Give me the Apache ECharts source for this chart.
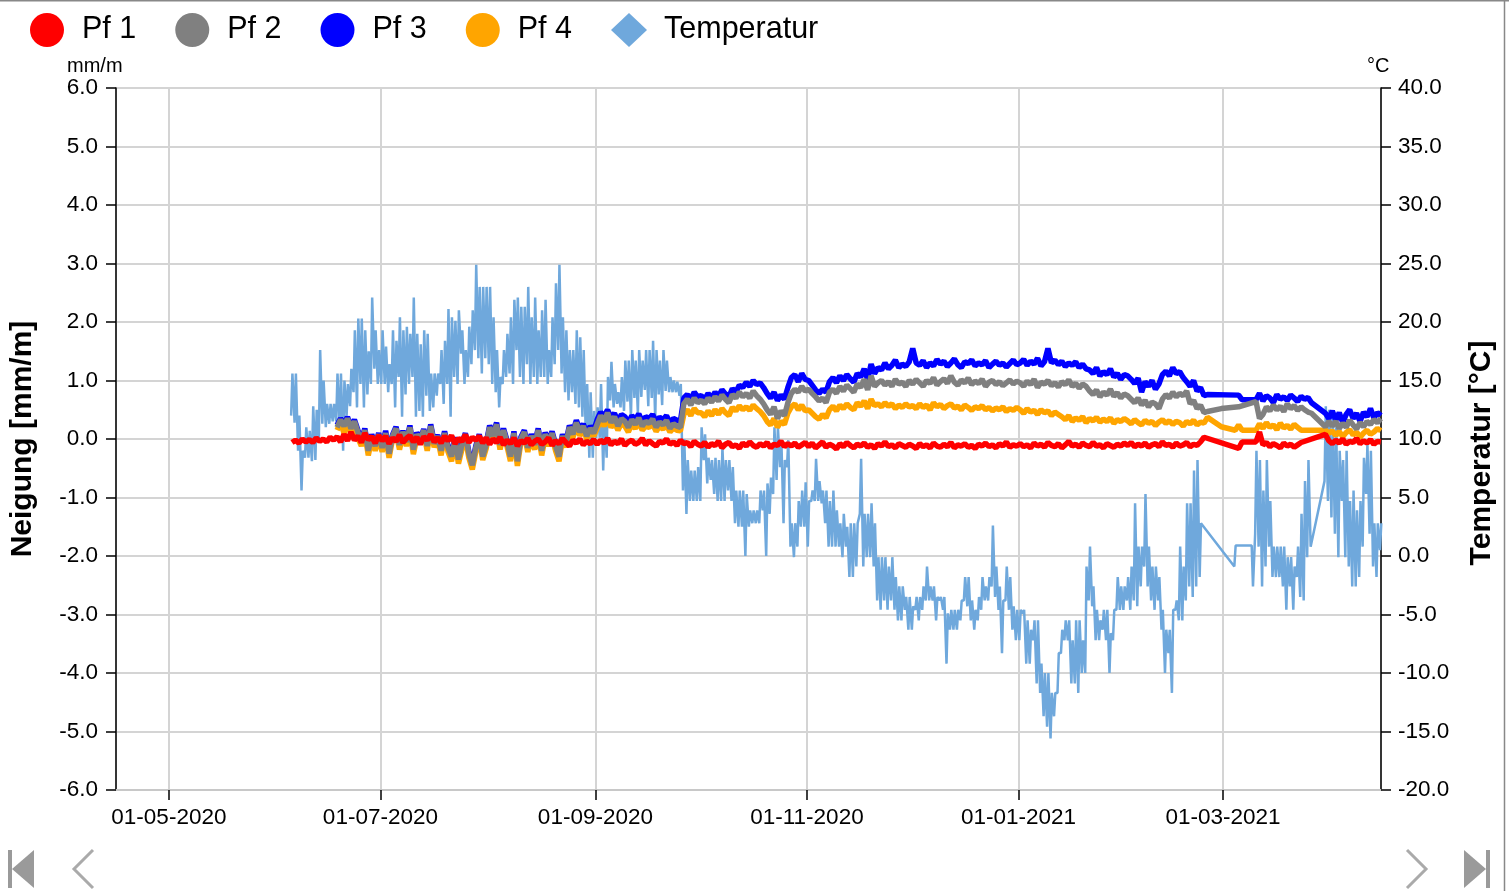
<!DOCTYPE html>
<html>
<head>
<meta charset="utf-8">
<title>Neigung Pf 1 - Pf 4 und Temperatur</title>
<script src="https://cdn.jsdelivr.net/npm/echarts@6/dist/echarts.min.js"></script>
<style>
  html, body { margin: 0; padding: 0; background: #fff; }
  #chart { width: 1509px; height: 891px; }
</style>
</head>
<body>
<div id="chart"></div>
<script>
  // erste Messung: 05-06-2020, ein Wert pro Tag (Pf) bzw. zwei pro Tag (Temperatur)
  var startYear = 2020, startMonth = 5, startDate = 5;

  // Neigung [mm/m], Monate Jun .. Apr (null = keine Messung)
  var pf1 = [
    -0.06,-0.02,-0.07,0.0,-0.05,-0.01,-0.06,0.02,-0.04,0.0,-0.05,0.03,-0.02,0.04,-0.05,0.08,-0.03,0.12,-0.02,0.05,-0.06,0.1,-0.01,0.04,-0.07,0.06,
    -0.03,0.05,-0.08,0.02,-0.04,0.07,-0.06,0.01,0.06,-0.05,0.03,-0.09,0.04,-0.02,0.08,-0.05,0.02,-0.07,0.05,-0.03,0.06,-0.08,0.01,-0.04,0.07,-0.06,0.03,-0.02,0.05,-0.07,0.02,
    -0.09,0.0,-0.06,0.03,-0.1,-0.02,-0.08,0.02,-0.12,-0.03,-0.07,0.01,-0.1,-0.04,0.0,-0.09,-0.05,0.02,-0.11,-0.03,-0.08,0.01,-0.06,-0.12,-0.02,-0.07,0.0,-0.1,-0.04,-0.08,-0.01,
    -0.09,-0.02,-0.07,0.01,-0.1,-0.04,-0.08,0.0,-0.11,-0.05,-0.02,-0.09,-0.06,0.01,-0.1,-0.03,-0.08,-0.12,-0.04,-0.07,0.0,-0.09,-0.05,-0.11,-0.02,-0.08,-0.06,-0.13,-0.04,-0.09,
    -0.12,-0.06,-0.14,-0.08,-0.11,-0.04,-0.15,-0.09,-0.06,-0.13,-0.1,-0.16,-0.07,-0.12,-0.05,-0.11,-0.14,-0.08,-0.12,-0.06,-0.15,-0.09,-0.11,-0.04,-0.13,-0.08,-0.12,-0.07,-0.14,-0.1,-0.06,
    -0.13,-0.07,-0.15,-0.1,-0.05,-0.14,-0.09,-0.12,-0.17,-0.08,-0.13,-0.06,-0.11,-0.15,-0.09,-0.12,-0.07,-0.14,-0.1,-0.16,-0.08,-0.12,-0.05,-0.13,-0.1,-0.15,-0.08,-0.11,-0.14,-0.09,
    -0.12,-0.16,-0.08,-0.13,-0.1,-0.15,-0.07,-0.12,-0.14,-0.09,-0.13,-0.06,-0.15,-0.1,-0.12,-0.08,-0.14,-0.11,-0.16,-0.09,-0.12,-0.07,-0.13,-0.1,-0.15,-0.08,-0.12,-0.05,-0.14,-0.1,-0.12,
    -0.08,-0.13,-0.1,-0.15,-0.07,-0.12,-0.09,-0.14,-0.06,-0.11,-0.13,-0.08,-0.15,-0.1,-0.04,-0.12,-0.09,-0.14,-0.07,-0.11,-0.13,-0.06,-0.12,-0.1,-0.15,-0.08,-0.11,-0.14,-0.09,-0.12,-0.07,
    -0.11,-0.06,-0.13,-0.09,-0.12,-0.07,-0.14,-0.1,-0.08,-0.13,-0.05,-0.11,-0.09,-0.14,-0.07,-0.12,-0.1,-0.06,-0.13,-0.09,-0.11,-0.05,0.03,null,null,null,null,null,
    null,null,null,null,-0.16,-0.05,null,null,null,-0.05,0.12,-0.1,-0.06,-0.13,-0.08,-0.11,-0.15,-0.07,-0.12,-0.09,-0.14,-0.1,-0.06,null,null,null,null,null,null,0.08,-0.03,
    -0.08,-0.02,-0.07,0.0,-0.09,-0.04,-0.06,0.01,-0.08,-0.03,-0.07,-0.01,-0.09,-0.04,-0.05
  ];
  var pf2 = [
    null,null,null,null,null,null,null,null,null,null,null,null,null,0.2,0.33,0.22,0.35,0.18,0.3,0.12,-0.05,0.15,-0.2,0.05,-0.12,0.08,
    -0.15,0.1,-0.25,0.05,0.18,-0.1,0.12,-0.05,0.2,-0.18,0.08,-0.02,0.15,-0.12,0.22,-0.08,0.05,-0.2,0.1,-0.15,-0.3,0.0,-0.35,-0.1,0.08,-0.25,-0.45,-0.15,0.05,-0.3,-0.1,
    0.2,0.05,0.25,-0.1,0.15,-0.05,-0.3,0.1,-0.38,0.0,0.12,-0.15,0.05,-0.1,0.15,-0.2,0.08,-0.05,0.1,-0.12,-0.3,0.05,-0.08,0.2,0.08,0.28,0.12,0.22,0.05,0.18,0.1,
    0.25,0.4,0.3,0.45,0.28,0.38,0.22,0.35,0.3,0.2,0.33,0.25,0.36,0.22,0.3,0.27,0.34,0.2,0.29,0.24,0.32,0.18,0.26,0.22,0.2,0.6,0.68,0.58,0.7,0.62,
    0.66,0.6,0.7,0.63,0.72,0.65,0.75,0.68,0.62,0.76,0.7,0.8,0.72,0.78,0.7,0.82,0.74,0.68,0.6,0.5,0.42,0.55,0.35,0.48,0.4,0.62,0.78,0.85,0.8,0.9,0.82,
    0.85,0.78,0.72,0.65,0.7,0.62,0.8,0.85,0.78,0.9,0.82,0.92,0.86,0.8,0.94,0.88,1.02,0.84,1.08,0.9,0.96,1.0,0.92,0.98,0.9,1.02,0.94,0.97,0.9,1.0,
    0.94,1.02,0.96,0.9,1.0,0.95,1.05,0.92,0.98,1.03,0.95,1.08,0.97,0.92,1.01,0.96,1.04,0.93,0.99,0.95,1.02,0.9,0.97,1.0,0.93,0.98,0.91,0.96,1.01,0.94,0.99,
    0.96,0.9,0.99,0.93,1.02,0.88,0.97,0.94,1.0,0.91,0.96,0.89,0.98,0.93,1.01,0.9,0.95,0.87,0.94,0.9,0.82,0.76,0.84,0.72,0.8,0.75,0.85,0.73,0.79,0.7,0.77,
    0.74,0.68,0.62,0.7,0.58,0.66,0.55,0.63,0.6,0.52,0.68,0.76,0.7,0.8,0.72,0.78,0.74,0.82,0.6,0.66,0.52,0.58,0.45,0.47,null,null,null,0.52,
    null,null,null,null,0.55,null,null,null,null,0.64,0.35,0.42,0.55,0.48,0.58,0.5,0.56,0.47,0.6,0.52,0.57,0.49,0.55,0.5,0.46,0.44,null,null,null,0.21,0.3,
    0.22,0.3,0.18,0.27,0.2,0.32,0.24,0.17,0.28,0.21,0.3,0.25,0.33,0.28,0.35
  ];
  var pf3 = [
    null,null,null,null,null,null,null,null,null,null,null,null,null,0.24,0.35,0.25,0.38,0.2,0.33,0.15,-0.02,0.18,-0.17,0.08,-0.1,0.1,
    -0.12,0.14,-0.22,0.07,0.21,-0.07,0.14,-0.03,0.23,-0.15,0.11,0.0,0.17,-0.1,0.25,-0.05,0.07,-0.17,0.13,-0.12,-0.27,0.03,-0.32,-0.07,0.1,-0.22,-0.42,-0.12,0.08,-0.27,-0.07,
    0.23,0.08,0.28,-0.07,0.18,-0.02,-0.27,0.13,-0.35,0.03,0.15,-0.12,0.08,-0.07,0.18,-0.17,0.11,-0.02,0.13,-0.09,-0.27,0.08,-0.05,0.23,0.12,0.32,0.16,0.26,0.09,0.22,0.14,
    0.33,0.46,0.38,0.5,0.36,0.44,0.3,0.42,0.38,0.28,0.4,0.33,0.43,0.3,0.38,0.35,0.42,0.3,0.37,0.33,0.4,0.28,0.35,0.32,0.3,0.7,0.76,0.68,0.8,0.72,
    0.74,0.68,0.78,0.7,0.8,0.73,0.84,0.77,0.72,0.86,0.8,0.92,0.88,0.97,0.9,1.0,0.93,0.96,0.88,0.78,0.7,0.8,0.66,0.75,0.68,0.88,1.05,1.1,0.98,1.12,1.02,
    1.0,0.92,0.84,0.78,0.85,0.8,0.98,1.05,0.96,1.08,1.0,1.1,1.03,0.97,1.12,1.06,1.2,1.02,1.28,1.12,1.22,1.18,1.3,1.2,1.26,1.35,1.22,1.28,1.24,1.32,
    1.55,1.3,1.26,1.34,1.22,1.3,1.25,1.36,1.28,1.33,1.24,1.3,1.37,1.27,1.22,1.32,1.29,1.35,1.25,1.3,1.27,1.34,1.22,1.28,1.33,1.26,1.3,1.23,1.29,1.35,1.27,
    1.3,1.36,1.26,1.33,1.28,1.38,1.25,1.32,1.55,1.3,1.35,1.27,1.33,1.24,1.3,1.26,1.32,1.22,1.28,1.2,1.18,1.12,1.22,1.08,1.15,1.1,1.2,1.06,1.12,1.02,1.1,
    1.08,1.02,0.95,1.04,0.8,0.98,0.9,1.0,0.85,0.94,1.1,1.16,1.08,1.22,1.12,1.15,1.05,0.98,0.9,1.0,0.82,0.88,0.74,0.76,null,null,null,null,
    null,null,null,null,0.75,0.67,null,null,null,0.67,0.78,0.65,0.74,0.7,0.62,0.76,0.68,0.72,0.66,0.75,0.7,0.64,0.73,0.68,0.71,0.62,null,null,null,0.44,0.35,
    0.48,0.32,0.45,0.28,0.42,0.5,0.35,0.44,0.3,0.46,0.38,0.52,0.36,0.45,0.4
  ];
  var pf4 = [
    null,null,null,null,null,null,null,null,null,null,null,null,null,0.15,0.28,0.1,0.3,0.08,0.24,0.02,-0.12,0.1,-0.28,0.0,-0.2,0.02,
    -0.22,0.05,-0.32,0.0,0.12,-0.18,0.08,-0.12,0.14,-0.26,0.02,-0.08,0.1,-0.2,0.16,-0.14,0.0,-0.28,0.05,-0.22,-0.38,-0.06,-0.42,-0.18,0.02,-0.32,-0.52,-0.22,0.0,-0.36,-0.16,
    0.14,-0.02,0.18,-0.18,0.1,-0.12,-0.38,0.04,-0.46,-0.06,0.06,-0.22,0.0,-0.18,0.1,-0.28,0.02,-0.12,0.04,-0.2,-0.38,0.0,-0.14,0.14,0.02,0.22,0.06,0.16,0.0,0.12,0.05,
    0.18,0.32,0.22,0.36,0.2,0.28,0.15,0.27,0.22,0.12,0.25,0.18,0.28,0.15,0.22,0.2,0.26,0.13,0.22,0.17,0.24,0.12,0.19,0.15,0.14,0.42,0.5,0.4,0.52,0.45,
    0.45,0.38,0.48,0.4,0.5,0.42,0.52,0.45,0.4,0.54,0.48,0.57,0.5,0.55,0.49,0.58,0.52,0.47,0.4,0.3,0.24,0.35,0.2,0.3,0.25,0.44,0.55,0.6,0.5,0.58,0.48,
    0.5,0.44,0.38,0.34,0.42,0.36,0.5,0.56,0.48,0.58,0.52,0.6,0.54,0.5,0.62,0.56,0.65,0.52,0.68,0.57,0.6,0.55,0.62,0.56,0.6,0.52,0.58,0.54,0.6,0.55,
    0.57,0.52,0.6,0.54,0.58,0.5,0.62,0.55,0.59,0.52,0.57,0.6,0.53,0.56,0.5,0.58,0.54,0.49,0.55,0.52,0.57,0.5,0.54,0.48,0.53,0.5,0.55,0.47,0.52,0.49,0.54,
    0.5,0.44,0.52,0.46,0.49,0.42,0.5,0.45,0.48,0.4,0.46,0.42,0.38,0.33,0.4,0.3,0.36,0.32,0.38,0.28,0.35,0.31,0.37,0.29,0.34,0.3,0.36,0.27,0.33,0.3,0.35,
    0.31,0.26,0.33,0.28,0.24,0.32,0.27,0.3,0.23,0.29,0.33,0.27,0.31,0.25,0.3,0.28,0.22,0.3,0.26,0.32,0.24,0.29,0.27,0.37,null,null,null,0.21,
    null,null,null,0.15,0.24,0.15,null,null,null,0.15,0.26,0.18,0.28,0.2,0.24,0.16,0.27,0.19,0.23,0.17,0.25,0.2,0.15,null,null,null,null,null,null,0.15,0.1,
    0.14,0.06,0.13,0.04,0.11,0.16,0.07,0.12,0.03,0.1,0.15,0.08,0.12,0.18,0.14
  ];

  // Temperatur [°C]: Messung um 06:00 und um 15:00
  var tempAm = [
    12,11.4,9,5.6,8.4,8.4,8.1,8.2,10,11.3,11,11.3,11.5,11.5,11,9,12,12.8,14,12.7,14.7,12.7,13.8,14.7,16,14.7,
    14.7,14.7,14,14.7,12.7,15.3,11.9,13.8,14.7,15.3,11.9,12.4,11.9,13.7,12.4,12.7,13.7,14.7,13,14.7,11.9,15.3,14.7,17.3,14.7,15.3,16.4,17.6,16.9,15.6,16.9,
    16.4,14.7,14,12.7,14.7,15.3,15.6,14.7,17.6,15.3,14.7,16.4,14.7,15.3,14.7,15.3,15.3,14.7,15.3,16.4,17.6,15.6,14,13.3,14,13,12.7,11.9,10.1,8.4,8.4,
    10.1,10.1,7.3,8.4,13.3,12.7,13,12.7,12.4,13.2,11.8,13.5,12.2,13.6,14.2,12.8,13.5,11.6,13.8,12.9,14.1,14,14,14,13.7,5.6,3.6,4.7,4.7,4.7,
    4.7,8.2,6.2,6.5,5.3,4.7,4.7,4.7,5.6,4.7,2.8,2.5,2.5,0,2.5,2.8,2.8,2.8,3.9,0,3.6,5.3,6.5,7.6,2.8,7.6,0.8,-0.1,0.8,2.5,2.5,
    0.8,4.7,4.7,4.7,4.5,2.8,0.8,0.8,0.8,0.8,-0.1,0.8,-1.8,-1.8,-0.9,3.6,-0.9,-0.1,-0.1,-0.9,-3.8,-4.6,-3.8,-4.6,-3.8,-4.6,-5.5,-5.5,-4.6,-6.3,
    -6.3,-4.6,-5.5,-4.6,-3.8,-3.8,-3.8,-5.5,-3.8,-4.6,-9.2,-6.3,-6.3,-6.3,-5.5,-3.8,-4.3,-5.5,-6.3,-5.5,-4.6,-3.8,-3.8,-2.6,-3.5,-4.6,-8.3,-3.8,-4.6,-6.3,-7.2,
    -7.2,-4.9,-9.2,-9.2,-7.2,-10.9,-11.7,-13.7,-14.6,-15.6,-13.7,-11.7,-8.3,-7.2,-7.2,-10.9,-10.9,-11.7,-10,-10,-3.8,-4.3,-7.2,-7.2,-6.3,-7.2,-10,-7.2,-4.6,-4.6,-4.6,
    -3.8,-4.6,-3.8,-4.3,-2.6,-0.9,-2.6,-3.8,-4.6,-3.8,-6.3,-10,-8.3,-11.7,-4.6,-5.5,-5.5,-3.8,-2.6,-3.5,-2.6,-1.8,null,null,null,null,null,null,
    null,null,null,-0.9,null,null,null,null,0.9,1.9,0.8,-2.6,-0.9,0.8,-1.8,-1.8,-1.8,-2.6,-4.6,-2.6,-4.6,-1.8,-3.5,-3.8,-0.1,0.8,null,null,null,6.4,4.7,
    3.3,1.9,-0.1,4.7,-0.1,-0.9,-2.6,-2.6,-1.8,0.8,5.3,1.9,-0.9,-1.8,0.5
  ];
  var tempPm = [
    15.6,15.6,12,9,11,10.7,12.8,12.5,17.6,15,13,13,13,15.6,15.6,15,14.7,16,19.3,20.3,20.3,19.3,17.5,22.1,19.3,17.6,
    19.3,17.9,16.4,19.3,18.4,20.4,19.3,19.6,19,22.1,19,18.1,19.3,19,15.6,15.6,15.6,17.6,18.4,21.1,20.4,20.1,21,19.3,17.6,19.6,21,24.9,23,23,23,
    23,20.4,17.6,15.3,17.6,19,20.4,21.9,22.1,21.3,21.3,23,20.4,22.1,19.3,21,21.9,17.6,20.4,23.3,24.9,20.4,19.3,17.6,17.6,19.3,18.7,17.6,14.7,14,12.4,
    12.7,14.7,11.9,15.3,16.6,14.7,14,15.3,16.7,16.7,17.6,16.7,17.6,16.7,17.6,17.6,18.4,17.6,16.7,17.6,16.7,15.3,15,14.9,14.7,10,8.2,7.3,7.3,7.6,
    11,10.4,8.4,8.2,8.4,8.2,9.3,8.2,8.2,7.6,5.6,5.6,5.6,5.3,3.9,3.9,3.9,5.6,5.6,6.2,6.7,11,11,9.9,8.2,9.9,2.8,2.8,4.7,5.6,6.3,
    4.7,5.6,8.3,6.4,5.6,5.6,4.7,5.6,3.9,2.8,3.6,2.5,2.8,2.8,2.8,8.3,3.6,3.6,4.5,2.8,-0.1,-0.1,-0.1,-0.9,-0.1,-1.8,-2.6,-2.6,-3.5,-3.5,
    -4.3,-3.5,-3.5,-2.6,-0.9,-2.6,-2.6,-3.5,-3.5,-3.5,-4.9,-4.6,-4.6,-4.6,-3.8,-1.8,-1.8,-3.8,-4.6,-3.5,-1.8,-2.6,-1.8,2.6,-0.9,-2.6,-3.8,-0.9,-1.8,-4.3,-4.6,
    -4.6,-4.6,-5.5,-6.3,-5.5,-5.5,-9.2,-10,-10,-11.7,-11.7,-8.3,-6.3,-5.5,-5.5,-7.2,-5.5,-5.5,-7.2,-0.9,0.8,-2.6,-4.6,-5.5,-4.6,-4.6,-6.6,-4.6,-1.8,-2.6,-2.6,
    -1.8,-0.9,4.5,0.8,0.8,5.3,0.8,-0.9,-0.9,-1.8,-4.6,-6.3,-6.3,-4.6,-3.8,0.8,-0.9,4.5,4.5,7.3,8.2,2.8,null,null,null,null,null,null,
    null,null,null,0.9,null,null,null,null,-2.6,9,8.2,5.6,8.2,4.7,0.8,0.8,0.8,0.8,-0.1,-0.1,-0.9,0.8,3.6,6.4,8.2,null,null,null,null,12.8,12.5,
    12,11,9,8.2,9,4.7,5.6,3.9,4.7,8.4,9.6,9,2.8,2.8,2.8
  ];

  var seriesNames = ['Pf 1', 'Pf 2', 'Pf 3', 'Pf 4', 'Temperatur'];
  var seriesColors = ['#ff0000', '#808080', '#0000ff', '#ffa500', '#6fa8dc'];

  function dayTime(i, hour) {
    return new Date(startYear, startMonth, startDate + i, hour).getTime();
  }
  function pfData(values) {
    var out = [];
    values.forEach(function (v, i) {
      if (v !== null) out.push([dayTime(i, 12), v]);
    });
    return out;
  }
  function tempData() {
    var out = [];
    for (var i = 0; i < tempAm.length; i++) {
      if (tempAm[i] !== null) out.push([dayTime(i, 6), tempAm[i]]);
      if (tempPm[i] !== null) out.push([dayTime(i, 15), tempPm[i]]);
    }
    return out;
  }
  function pad(n) { return (n < 10 ? '0' : '') + n; }

  var font = "'Liberation Sans', Arial, sans-serif";
  var gridColor = '#d4d4d4';

  function lineSeries(idx, data, yIndex, width) {
    return {
      name: seriesNames[idx],
      type: 'line',
      yAxisIndex: yIndex,
      data: data,
      showSymbol: false,
      symbol: 'none',
      color: seriesColors[idx],
      lineStyle: { width: width, color: seriesColors[idx] },
      emphasis: { disabled: true }
    };
  }

  var myChart = echarts.init(document.getElementById('chart'));
  var option = {
    animation: false,
    backgroundColor: '#fff',
    textStyle: { fontFamily: font },
    legend: {
      left: 30,
      top: 13,
      padding: 0,
      itemWidth: 36,
      itemHeight: 34,
      itemGap: 39,
      textStyle: { fontSize: 30.5, color: '#000', fontFamily: font, padding: [0, 0, 0, 12] },
      data: [
        { name: 'Pf 1', icon: 'circle' },
        { name: 'Pf 2', icon: 'circle' },
        { name: 'Pf 3', icon: 'circle' },
        { name: 'Pf 4', icon: 'circle' },
        { name: 'Temperatur', icon: 'diamond' }
      ]
    },
    grid: { left: 116, right: 128, top: 88, bottom: 101, containLabel: false },
    xAxis: {
      type: 'time',
      min: new Date(2020, 3, 15, 18).getTime(),
      max: new Date(2021, 3, 15, 13).getTime(),
      splitNumber: 6,
      axisLine: { onZero: false, lineStyle: { color: '#c8c8c8', width: 2 } },
      axisTick: { show: true, length: 10, lineStyle: { color: '#000', width: 1.5 } },
      splitLine: { show: true, lineStyle: { color: gridColor, width: 2 } },
      axisLabel: {
        fontSize: 22.5, color: '#000', margin: 16, fontFamily: font,
        formatter: function (value) {
          var d = new Date(value);
          return pad(d.getDate()) + '-' + pad(d.getMonth() + 1) + '-' + d.getFullYear();
        }
      }
    },
    yAxis: [{
      type: 'value',
      min: -6, max: 6, interval: 1,
      name: 'Neigung [mm/m]',
      nameLocation: 'middle',
      nameRotate: 90,
      nameGap: 78,
      nameTextStyle: { fontSize: 30, fontWeight: 'bold', color: '#000', fontFamily: font },
      axisLine: { show: true, onZero: false, lineStyle: { color: '#000', width: 1.5 } },
      axisTick: { show: true, length: 10, lineStyle: { color: '#000', width: 1.5 } },
      splitLine: { show: true, lineStyle: { color: gridColor, width: 2 } },
      axisLabel: {
        fontSize: 22.5, color: '#000', margin: 18, fontFamily: font,
        formatter: function (v) { return v.toFixed(1); }
      }
    }, {
      type: 'value',
      position: 'right',
      min: -20, max: 40, interval: 5,
      name: 'Temperatur [°C]',
      nameLocation: 'middle',
      nameRotate: 90,
      nameGap: 86,
      nameTextStyle: { fontSize: 30, fontWeight: 'bold', color: '#000', fontFamily: font, padding: [0, 28, 0, 0] },
      axisLine: { show: true, onZero: false, lineStyle: { color: '#000', width: 1.5 } },
      axisTick: { show: true, length: 10, lineStyle: { color: '#000', width: 1.5 } },
      splitLine: { show: false },
      axisLabel: {
        fontSize: 22.5, color: '#000', margin: 17, fontFamily: font,
        formatter: function (v) { return v.toFixed(1); }
      }
    }],
    graphic: [
      { type: 'text', left: 67, top: 56, style: { text: 'mm/m', fontSize: 20, fill: '#000', fontFamily: font } },
      { type: 'text', left: 1367, top: 56, style: { text: '°C', fontSize: 20, fill: '#000', fontFamily: font } },
      // Rahmen oben und rechts
      { type: 'line', shape: { x1: 0, y1: 0.75, x2: 1509, y2: 0.75 }, style: { stroke: '#888', lineWidth: 1.5 } },
      { type: 'line', shape: { x1: 1504.5, y1: 0, x2: 1504.5, y2: 891 }, style: { stroke: '#888', lineWidth: 1.5 } },
      // Navigation
      { type: 'rect', shape: { x: 8, y: 850, width: 4, height: 38 }, style: { fill: '#9a9a9a' } },
      { type: 'polygon', shape: { points: [[12, 869], [34, 850], [34, 888]] }, style: { fill: '#9a9a9a' } },
      { type: 'polyline', shape: { points: [[93, 850], [74, 869], [93, 888]] }, style: { stroke: '#aaa', lineWidth: 3, fill: null } },
      { type: 'polyline', shape: { points: [[1407, 850], [1426, 869], [1407, 888]] }, style: { stroke: '#aaa', lineWidth: 3, fill: null } },
      { type: 'polygon', shape: { points: [[1464, 850], [1486, 869], [1464, 888]] }, style: { fill: '#9a9a9a' } },
      { type: 'rect', shape: { x: 1486, y: 850, width: 4, height: 38 }, style: { fill: '#9a9a9a' } }
    ],
    series: [
      lineSeries(4, tempData(), 1, 2.5),
      lineSeries(2, pfData(pf3), 0, 5.5),
      lineSeries(3, pfData(pf4), 0, 5.5),
      lineSeries(1, pfData(pf2), 0, 5.5),
      lineSeries(0, pfData(pf1), 0, 5.5)
    ]
  };
  myChart.setOption(option);
</script>
</body>
</html>
